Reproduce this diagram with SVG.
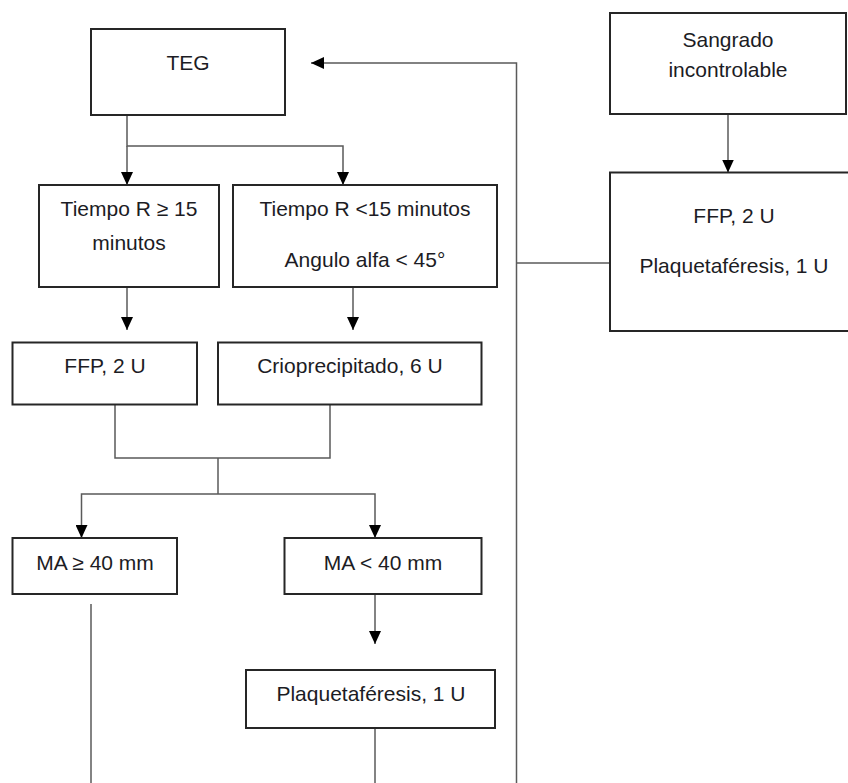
<svg xmlns="http://www.w3.org/2000/svg" width="848" height="783" viewBox="0 0 848 783">
<defs>
<style>
.box{fill:#fff;stroke:#262626;stroke-width:2}
.t{font-family:"Liberation Sans",Arial,sans-serif;font-size:21px;fill:#1c1c24;text-anchor:middle}
.c{fill:none;stroke:#5a5a5a;stroke-width:1.5}
</style>
<marker id="ah" markerUnits="userSpaceOnUse" markerWidth="13" markerHeight="12" refX="13" refY="6" orient="auto">
<path d="M0,0 L13,6 L0,12 z" fill="#000"/>
</marker>
</defs>
<rect width="848" height="783" fill="#fff"/>
<g id="connectors">
<path class="c" d="M127,116 V146 H343 V185" marker-end="url(#ah)"/>
<path class="c" d="M127,146 V185" marker-end="url(#ah)"/>
<path class="c" d="M127,288 V330" marker-end="url(#ah)"/>
<path class="c" d="M353,288 V330" marker-end="url(#ah)"/>
<path class="c" d="M115,405 V458 H330 V405"/>
<path class="c" d="M218,458 V494"/>
<path class="c" d="M218,494 H81.5 V538" marker-end="url(#ah)"/>
<path class="c" d="M218,494 H375 V538" marker-end="url(#ah)"/>
<path class="c" d="M91,604 V783"/>
<path class="c" d="M375,595 V644" marker-end="url(#ah)"/>
<path class="c" d="M375,728 V783"/>
<path class="c" d="M516.5,783 V63 H311" marker-end="url(#ah)"/>
<path class="c" d="M516.5,263 H610"/>
<path class="c" d="M728,114 V172.5" marker-end="url(#ah)"/>
</g>
<g id="teg">
<rect class="box" x="91" y="29" width="194" height="86"/>
<text class="t" x="188" y="70">TEG</text>
</g>
<g id="tiempo-r-mayor">
<rect class="box" x="39" y="185" width="180" height="102"/>
<text class="t" x="129" y="216">Tiempo R ≥ 15</text>
<text class="t" x="129" y="250">minutos</text>
</g>
<g id="tiempo-r-menor">
<rect class="box" x="233" y="185" width="264" height="102"/>
<text class="t" x="365" y="216">Tiempo R &lt;15 minutos</text>
<text class="t" x="365" y="267">Angulo alfa &lt; 45°</text>
</g>
<g id="ffp">
<rect class="box" x="12.5" y="342.5" width="184.5" height="62"/>
<text class="t" x="105" y="373">FFP, 2 U</text>
</g>
<g id="crio">
<rect class="box" x="218" y="342.5" width="263.5" height="62"/>
<text class="t" x="350" y="373">Crioprecipitado, 6 U</text>
</g>
<g id="ma-mayor">
<rect class="box" x="12.5" y="538" width="164.5" height="56"/>
<text class="t" x="95" y="570">MA ≥ 40 mm</text>
</g>
<g id="ma-menor">
<rect class="box" x="284.5" y="538" width="197" height="56"/>
<text class="t" x="383" y="570">MA &lt; 40 mm</text>
</g>
<g id="plaquetaferesis">
<rect class="box" x="246" y="670" width="249" height="58"/>
<text class="t" x="371" y="701">Plaquetaféresis, 1 U</text>
</g>
<g id="sangrado">
<rect class="box" x="610" y="13" width="236" height="101"/>
<text class="t" x="728" y="47">Sangrado</text>
<text class="t" x="728" y="77">incontrolable</text>
</g>
<g id="ffp-plaquetas">
<rect class="box" x="610" y="172.5" width="260" height="158.5"/>
<text class="t" x="734" y="223">FFP, 2 U</text>
<text class="t" x="734" y="273">Plaquetaféresis, 1 U</text>
</g>
</svg>
